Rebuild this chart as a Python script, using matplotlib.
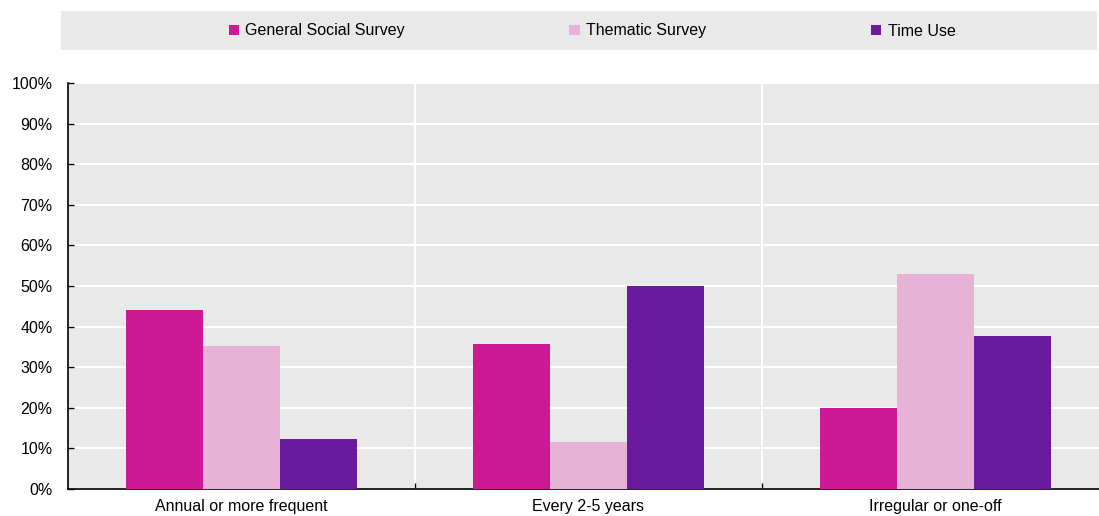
import numpy as np
import matplotlib.pyplot as plt
from matplotlib.ticker import FixedLocator, PercentFormatter

plt.rcParams['font.family'] = ['Liberation Sans Narrow', 'Liberation Sans', 'DejaVu Sans']

categories = ['Annual or more frequent', 'Every 2-5 years', 'Irregular or one-off']
series = ['General Social Survey', 'Thematic Survey', 'Time Use']
general = [44, 35.7, 20]
thematic = [35.3, 11.6, 53]
time_use = [12.2, 50, 37.6]
colors = ['#CC1A96', '#E6B2D6', '#6A1A9C']

fig = plt.figure(figsize=(10.99, 5.16), dpi=100)
# plot area runs slightly past the right edge of the image, as in the source
ax = fig.add_axes([68 / 1099, 27 / 516, 1041 / 1099, 406 / 516])
ax.set_facecolor('#E9E9E9')

x = np.arange(len(categories))
w = 0.222
for i, (vals, name) in enumerate(zip([general, thematic, time_use], series)):
    ax.bar(x + (i - 1) * w, vals, width=w, color=colors[i], label=name, zorder=3)

ax.set_xlim(-0.5, len(categories) - 0.5)
ax.set_ylim(0, 100)
ax.set_yticks(np.arange(0, 101, 10))
ax.yaxis.set_major_formatter(PercentFormatter(decimals=0))
ax.set_xticks(x)
ax.set_xticklabels(categories)
ax.xaxis.set_minor_locator(FixedLocator(x[:-1] + 0.5))
ax.tick_params(axis='x', which='major', length=0, labelsize=11.5, pad=7)
ax.tick_params(axis='x', which='minor', direction='in', length=4, width=1)
ax.tick_params(axis='y', direction='in', length=4, width=1, labelsize=11.5, pad=11)

ax.grid(axis='y', color='white', linewidth=1.5, zorder=0)
ax.grid(axis='x', which='minor', color='white', linewidth=1.5, zorder=0)
ax.set_axisbelow(True)
for s in ['top', 'right']:
    ax.spines[s].set_visible(False)
ax.spines['left'].set_linewidth(1.2)
ax.spines['bottom'].set_linewidth(1.2)

# legend strip
fig.patches.append(plt.Rectangle((61 / 1099, 1 - 50 / 516), 1036 / 1099, 39 / 516,
                                 transform=fig.transFigure, facecolor='#E9E9E9',
                                 edgecolor='none', zorder=0))
leg = fig.legend(loc='center', bbox_to_anchor=(592 / 1099, 1 - 31 / 516), ncol=3,
                 frameon=False, fontsize=11.5, handlelength=0.65, handleheight=0.65,
                 handletextpad=0.4, columnspacing=10.3)

plt.savefig('out.png', dpi=100)
